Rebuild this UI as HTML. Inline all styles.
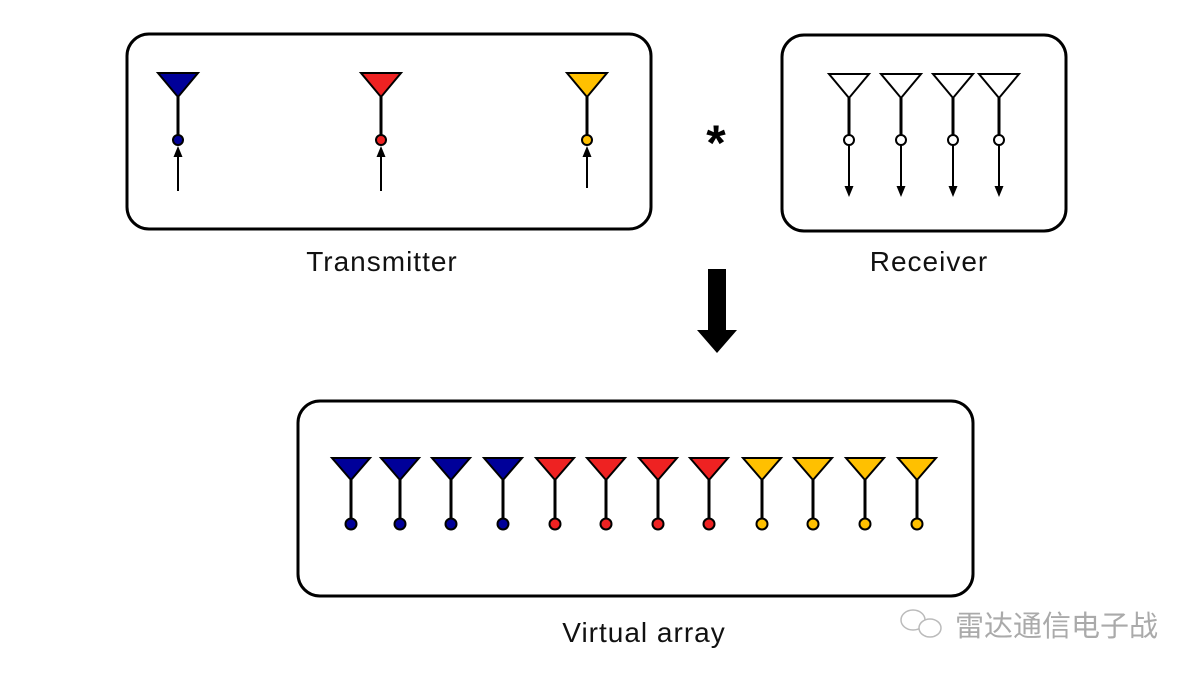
<!DOCTYPE html>
<html><head><meta charset="utf-8"><style>
html,body{margin:0;padding:0;background:#fff;}
svg{display:block;}
text{font-family:"Liberation Sans",Arial,sans-serif;}
</style></head><body>
<svg width="1204" height="678" viewBox="0 0 1204 678" xmlns="http://www.w3.org/2000/svg">
<rect x="127" y="34" width="524" height="195" rx="22" fill="#fff" stroke="#000" stroke-width="3"/>
<rect x="782" y="35" width="284" height="196" rx="22" fill="#fff" stroke="#000" stroke-width="3"/>
<rect x="298" y="401" width="675" height="195" rx="22" fill="#fff" stroke="#000" stroke-width="3"/>

<g stroke="#000">
<g><polygon points="158,73 198,73 178,97" fill="#000099" stroke-width="2"/><line x1="178" y1="97" x2="178" y2="135" stroke-width="3"/><circle cx="178" cy="140" r="5" fill="#000099" stroke-width="2"/><line x1="178" y1="191" x2="178" y2="155" stroke-width="2"/><polygon points="178,146 173.5,157 182.5,157" fill="#000" stroke="none"/></g>
<g><polygon points="361,73 401,73 381,97" fill="#ee2222" stroke-width="2"/><line x1="381" y1="97" x2="381" y2="135" stroke-width="3"/><circle cx="381" cy="140" r="5" fill="#ee2222" stroke-width="2"/><line x1="381" y1="191" x2="381" y2="155" stroke-width="2"/><polygon points="381,146 376.5,157 385.5,157" fill="#000" stroke="none"/></g>
<g><polygon points="567,73 607,73 587,97" fill="#ffc000" stroke-width="2"/><line x1="587" y1="97" x2="587" y2="135" stroke-width="3"/><circle cx="587" cy="140" r="5" fill="#ffc000" stroke-width="2"/><line x1="587" y1="188" x2="587" y2="155" stroke-width="2"/><polygon points="587,146 582.5,157 591.5,157" fill="#000" stroke="none"/></g>
</g>

<g stroke="#000" fill="#fff">
<g><polygon points="829,74 869,74 849,98" stroke-width="2"/><line x1="849" y1="98" x2="849" y2="135" stroke-width="3"/><circle cx="849" cy="140" r="5" stroke-width="2"/><line x1="849" y1="145" x2="849" y2="188" stroke-width="2"/><polygon points="849,197 844.5,186 853.5,186" fill="#000" stroke="none"/></g>
<g><polygon points="881,74 921,74 901,98" stroke-width="2"/><line x1="901" y1="98" x2="901" y2="135" stroke-width="3"/><circle cx="901" cy="140" r="5" stroke-width="2"/><line x1="901" y1="145" x2="901" y2="188" stroke-width="2"/><polygon points="901,197 896.5,186 905.5,186" fill="#000" stroke="none"/></g>
<g><polygon points="933,74 973,74 953,98" stroke-width="2"/><line x1="953" y1="98" x2="953" y2="135" stroke-width="3"/><circle cx="953" cy="140" r="5" stroke-width="2"/><line x1="953" y1="145" x2="953" y2="188" stroke-width="2"/><polygon points="953,197 948.5,186 957.5,186" fill="#000" stroke="none"/></g>
<g><polygon points="979,74 1019,74 999,98" stroke-width="2"/><line x1="999" y1="98" x2="999" y2="135" stroke-width="3"/><circle cx="999" cy="140" r="5" stroke-width="2"/><line x1="999" y1="145" x2="999" y2="188" stroke-width="2"/><polygon points="999,197 994.5,186 1003.5,186" fill="#000" stroke="none"/></g>
</g>

<text x="716" y="160" font-size="50" font-weight="bold" text-anchor="middle">*</text>
<rect x="708" y="269" width="18" height="62" fill="#000"/>
<polygon points="697,330 737,330 717,353" fill="#000"/>

<g stroke="#000" stroke-width="2">
<polygon points="332,458 370,458 351,480" fill="#000099"/><line x1="351" y1="480" x2="351" y2="518" stroke-width="3"/><circle cx="351" cy="524" r="5.5" fill="#000099"/>
<polygon points="381,458 419,458 400,480" fill="#000099"/><line x1="400" y1="480" x2="400" y2="518" stroke-width="3"/><circle cx="400" cy="524" r="5.5" fill="#000099"/>
<polygon points="432,458 470,458 451,480" fill="#000099"/><line x1="451" y1="480" x2="451" y2="518" stroke-width="3"/><circle cx="451" cy="524" r="5.5" fill="#000099"/>
<polygon points="484,458 522,458 503,480" fill="#000099"/><line x1="503" y1="480" x2="503" y2="518" stroke-width="3"/><circle cx="503" cy="524" r="5.5" fill="#000099"/>
<polygon points="536,458 574,458 555,480" fill="#ee2222"/><line x1="555" y1="480" x2="555" y2="518" stroke-width="3"/><circle cx="555" cy="524" r="5.5" fill="#ee2222"/>
<polygon points="587,458 625,458 606,480" fill="#ee2222"/><line x1="606" y1="480" x2="606" y2="518" stroke-width="3"/><circle cx="606" cy="524" r="5.5" fill="#ee2222"/>
<polygon points="639,458 677,458 658,480" fill="#ee2222"/><line x1="658" y1="480" x2="658" y2="518" stroke-width="3"/><circle cx="658" cy="524" r="5.5" fill="#ee2222"/>
<polygon points="690,458 728,458 709,480" fill="#ee2222"/><line x1="709" y1="480" x2="709" y2="518" stroke-width="3"/><circle cx="709" cy="524" r="5.5" fill="#ee2222"/>
<polygon points="743,458 781,458 762,480" fill="#ffc000"/><line x1="762" y1="480" x2="762" y2="518" stroke-width="3"/><circle cx="762" cy="524" r="5.5" fill="#ffc000"/>
<polygon points="794,458 832,458 813,480" fill="#ffc000"/><line x1="813" y1="480" x2="813" y2="518" stroke-width="3"/><circle cx="813" cy="524" r="5.5" fill="#ffc000"/>
<polygon points="846,458 884,458 865,480" fill="#ffc000"/><line x1="865" y1="480" x2="865" y2="518" stroke-width="3"/><circle cx="865" cy="524" r="5.5" fill="#ffc000"/>
<polygon points="898,458 936,458 917,480" fill="#ffc000"/><line x1="917" y1="480" x2="917" y2="518" stroke-width="3"/><circle cx="917" cy="524" r="5.5" fill="#ffc000"/>
</g>

<text x="382" y="271" font-size="28" letter-spacing="1" text-anchor="middle" fill="#111">Transmitter</text>
<text x="929" y="271" font-size="28" letter-spacing="1" text-anchor="middle" fill="#111">Receiver</text>
<text x="644" y="642" font-size="28" letter-spacing="1" text-anchor="middle" fill="#111">Virtual array</text>

<g fill="none" stroke="#bbb" stroke-width="1.5">
<ellipse cx="913" cy="620" rx="12" ry="10"/>
<ellipse cx="930" cy="628" rx="11" ry="9" fill="#fff"/>
</g>
<text x="955" y="636" font-size="29" fill="#aaa" font-family="'Liberation Sans','Noto Sans CJK SC',sans-serif">雷达通信电子战</text>
</svg>
</body></html>
